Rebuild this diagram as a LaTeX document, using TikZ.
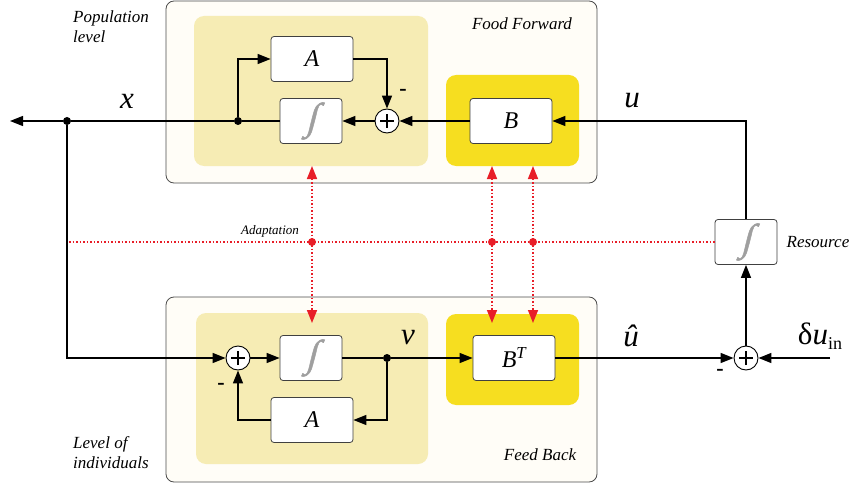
\documentclass[tikz,border=0pt]{standalone}
\usepackage{fontspec}
\setmainfont{Liberation Serif}
\newfontfamily\intfont[FakeSlant=0.25,FakeBold=1.2]{Liberation Serif}
\usetikzlibrary{arrows.meta}

\definecolor{cream}{RGB}{255,253,247}
\definecolor{paleyel}{RGB}{246,236,180}
\definecolor{brightyel}{RGB}{246,222,32}
\definecolor{adapred}{RGB}{232,30,40}

\newcommand{\intsym}{\textcolor{gray!75}{\fontsize{38}{38}\intfont ∫}}

\tikzset{
  panel/.style={draw=black!70, fill=cream, rounded corners=8pt, line width=0.8pt},
  blk/.style={draw=black!75, fill=white, rounded corners=3pt, line width=0.8pt,
    minimum width=82pt, minimum height=45pt, inner sep=0pt,
    font=\fontsize{24}{24}\selectfont\itshape},
  intg/.style={blk, minimum width=62pt, font=\normalsize},
  sumnode/.style={circle, draw=black, fill=white, line width=0.9pt,
    minimum size=24pt, inner sep=0pt,
    path picture={
      \draw[line width=1.4pt] ([xshift=-7pt]path picture bounding box.center)
        -- ([xshift=7pt]path picture bounding box.center);
      \draw[line width=1.4pt] ([yshift=-7pt]path picture bounding box.center)
        -- ([yshift=7pt]path picture bounding box.center);}},
  jdot/.style={circle, fill=black, minimum size=8pt, inner sep=0pt},
  rdot/.style={circle, fill=adapred, minimum size=8pt, inner sep=0pt},
  sig/.style={line width=1.4pt, arrows={-Triangle[length=13pt,width=10pt]}},
  wire/.style={line width=1.4pt},
  adapt/.style={adapred, dotted, line width=1.5pt},
  lbl/.style={font=\fontsize{31}{31}\selectfont\itshape, inner sep=0pt},
  tagtext/.style={font=\fontsize{17}{20}\selectfont\itshape, inner sep=0pt},
  minus/.style={font=\fontsize{22}{22}\selectfont\bfseries, inner sep=0pt}
}

\begin{document}
\begin{tikzpicture}[x=1pt, y=-1pt]
\useasboundingbox (0,0) rectangle (854,484);

% ===== Panels =====
\filldraw[panel] (166,1) rectangle (597,183);
\filldraw[panel] (166,297) rectangle (597,482);
\fill[paleyel, rounded corners=10pt] (194,16) rectangle (428,166);
\fill[paleyel, rounded corners=10pt] (196,313) rectangle (428,464);
\fill[brightyel, rounded corners=10pt] (446,75) rectangle (579,166);
\fill[brightyel, rounded corners=10pt] (446,314) rectangle (579,405);

% ===== Blocks =====
\node[blk] (Atop) at (312,59) {A};
\node[intg] (Itop) at (311,121) {\intsym};
\node[sumnode] (Stop) at (387,121) {};
\node[blk] (B) at (511,121) {B};

\node[sumnode] (Sbot) at (238,358) {};
\node[intg] (Ibot) at (311,358) {\intsym};
\node[blk] (Abot) at (312,420) {A};
\node[blk] (BT) at (514,358) {B\textsuperscript{T}};

\node[sumnode] (Sres) at (746,358) {};
\node[intg] (Ires) at (746,242) {\intsym};

% ===== Junctions =====
\node[jdot] (Jx) at (67,121) {};
\node[jdot] (Jtop) at (238,121) {};
\node[jdot] (Jbot) at (387,358) {};
\coordinate (xout) at (10,121);
\coordinate (din) at (830,358);

% ===== Signals =====
\draw[sig] (B.west) -- (Stop.east);
\draw[sig] (Stop.west) -- (Itop.east);
\draw[wire] (Itop.west) -- (Jtop) -- (Jx);
\draw[sig] (Jx) -- (xout);
\draw[sig] (Jtop) |- (Atop.west);
\draw[sig] (Atop.east) -| (Stop.north);

\draw[sig] (Jx) |- (Sbot.west);
\draw[sig] (Sbot.east) -- (Ibot.west);
\draw[wire] (Ibot.east) -- (Jbot);
\draw[sig] (Jbot) -- (BT.west);
\draw[sig] (Jbot) |- (Abot.east);
\draw[sig] (Abot.west) -| (Sbot.south);

\draw[sig] (BT.east) -- (Sres.west);
\draw[sig] (din) -- (Sres.east);
\draw[sig] (Sres.north) -- (Ires.south);
\draw[sig] (Ires.north) |- (B.east);

% ===== Adaptation =====
\coordinate (adL) at (69,242);
\draw[adapt] (adL) -- (Ires.west);
\foreach \n/\xx in {a/312, b/492, c/533} {
  \node[rdot] (r\n) at (\xx,242) {};
  \coordinate (u\n) at (\xx,166);
  \coordinate (d\n) at (\xx,323);
  \draw[adapt, arrows={Triangle[length=13pt,width=10pt]-Triangle[length=13pt,width=10pt]}] (u\n) -- (d\n);
}

% ===== Labels =====
\node[lbl] (lx) at (127,101) {x};
\node[lbl] (lu) at (632,101) {u};
\node[lbl] (lv) at (408,338) {v};
\node[lbl] (luh) at (631,336) {û};
\node[font=\fontsize{31}{31}\selectfont, inner sep=0pt] (ldu) at (820,336) {δ\textit{u}{\fontsize{18}{18}\selectfont\raisebox{-5pt}{in}}};

\node[minus] (m1) at (403,92) {-};
\node[minus] (m2) at (221,386) {-};
\node[minus] (m3) at (720,372) {-};

\node[tagtext] (tff) at (522,24) {Food Forward};
\node[tagtext] (tfb) at (540,455) {Feed Back};
\node[tagtext, anchor=west, align=left] (tpop) at (73,27) {Population\\level};
\node[tagtext, anchor=west, align=left] (tind) at (73,453) {Level of\\individuals};
\node[tagtext] (tres) at (818,242) {Resource};
\node[font=\fontsize{13}{13}\selectfont\itshape, inner sep=0pt] (tad) at (270,231) {Adaptation};

\end{tikzpicture}
\end{document}
